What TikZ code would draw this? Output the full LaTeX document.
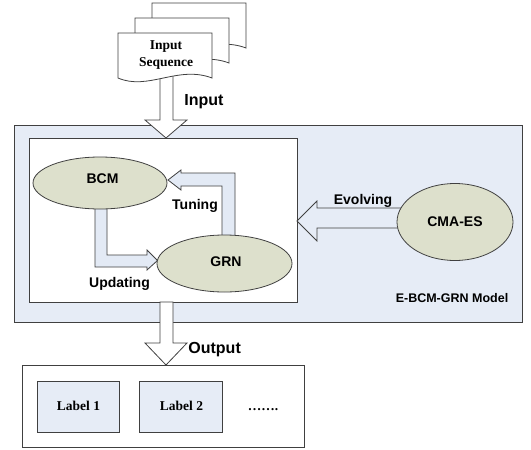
\documentclass[tikz,border=0pt]{standalone}
\usepackage{fontspec}
\setmainfont{Liberation Serif}
\setsansfont{Liberation Sans}
\usetikzlibrary{shapes.geometric,calc}
\definecolor{bgblue}{HTML}{E6ECF6}
\definecolor{arrblue}{HTML}{E3EAF5}
\definecolor{olivefill}{HTML}{DDE0CC}
\definecolor{edgecol}{HTML}{404040}
\begin{document}
\begin{tikzpicture}[x=1pt,y=-1pt,
  line width=0.8pt, line join=miter,
  boxline/.style={draw=edgecol},
  oval/.style={ellipse, draw=edgecol, fill=olivefill, inner sep=0pt},
  blockarrow/.style={draw=edgecol, fill=#1},
  sanslbl/.style={font=\sffamily\bfseries\fontsize{14}{16}\selectfont, inner sep=0pt, anchor=base},
  biglbl/.style={font=\sffamily\bfseries\fontsize{16}{18}\selectfont, inner sep=0pt, anchor=base west},
  seriflbl/.style={font=\rmfamily\bfseries\fontsize{13.5}{15}\selectfont, inner sep=0pt, anchor=base},
  labelbox/.style={draw=edgecol, fill=bgblue}]
\useasboundingbox (0,0) rectangle (531,450);

% outer model box and inner box
\draw[boxline, fill=bgblue] (14,125) rectangle (522,322);
\draw[boxline, fill=white] (29,138) rectangle (297,302);
\coordinate (innerTop) at (166,138);
\coordinate (innerBot) at (166,302);
\coordinate (innerRight) at (297,221);

% Updating and Tuning arrows (behind ellipses)
\draw[blockarrow=arrblue] (95,200) -- (95,267) -- (147,267) -- (147,270) -- (157.5,260.5)
   -- (147,250) -- (147,255) -- (107,255) -- (107,200) -- cycle;
\draw[blockarrow=arrblue] (222,245) -- (222,186) -- (181,186) -- (181,190) -- (168,180)
   -- (181,170) -- (181,173) -- (235,173) -- (235,245) -- cycle;

% ellipses
\node[oval, minimum width=134pt, minimum height=52pt] (bcm) at (100,183) {};
\node[oval, minimum width=135pt, minimum height=57pt] (grn) at (224.5,263.5) {};

% Evolving arrow
\draw[blockarrow=bgblue] (innerRight) -- (317,201) -- (317,208) -- (402,208) -- (402,228)
   -- (317,228) -- (317,241) -- cycle;
\node[oval, minimum width=116pt, minimum height=77pt] (cma) at (455,222) {};

% Input arrow
\draw[blockarrow=white] (160,70) -- (160,120) -- (145,120) -- (innerTop) -- (187,120)
   -- (173,120) -- (173,70) -- cycle;

% stacked input documents
\foreach \dx/\dy in {34/-30, 17/-15, 0/0}{
  \draw[boxline, fill=white, shift={(\dx,\dy)}]
    (118,33) -- (118,78) .. controls (148,91) and (178,65) .. (212,78) -- (212,33) -- cycle;
}
\node[seriflbl] (docA) at (166,49.5) {Input};
\node[seriflbl] (docB) at (166,66.5) {Sequence};
\node[biglbl] (inLbl) at (184,105.5) {Input};

% Output arrow
\draw[blockarrow=white] (160,302) -- (160,343) -- (145,343) -- (166,365) -- (187,343)
   -- (173,343) -- (173,302) -- cycle;
\node[biglbl] (outLbl) at (188,353) {Output};

% output box
\draw[boxline, fill=white] (22,365) rectangle (304,447);
\draw[labelbox] (37,381) rectangle (119,432);
\draw[labelbox] (139,381) rectangle (222,432);
\node[seriflbl] (lab1) at (78.5,410.5) {Label 1};
\node[seriflbl] (lab2) at (181.5,410.5) {Label 2};
\node[seriflbl] (dots) at (263,410.5) {…….};

% labels
\node[sanslbl] (bcmT) at (102.5,183) {BCM};
\node[sanslbl] (grnT) at (226,266) {GRN};
\node[sanslbl] (cmaT) at (455,226) {CMA-ES};
\node[sanslbl] (tunT) at (195,209) {Tuning};
\node[sanslbl] (updT) at (119.5,287.5) {Updating};
\node[sanslbl] (evoT) at (363,204) {Evolving};
\node[sanslbl, font=\sffamily\bfseries\fontsize{12.5}{14}\selectfont] (modT) at (452,302) {E-BCM-GRN Model};
\end{tikzpicture}
\end{document}
